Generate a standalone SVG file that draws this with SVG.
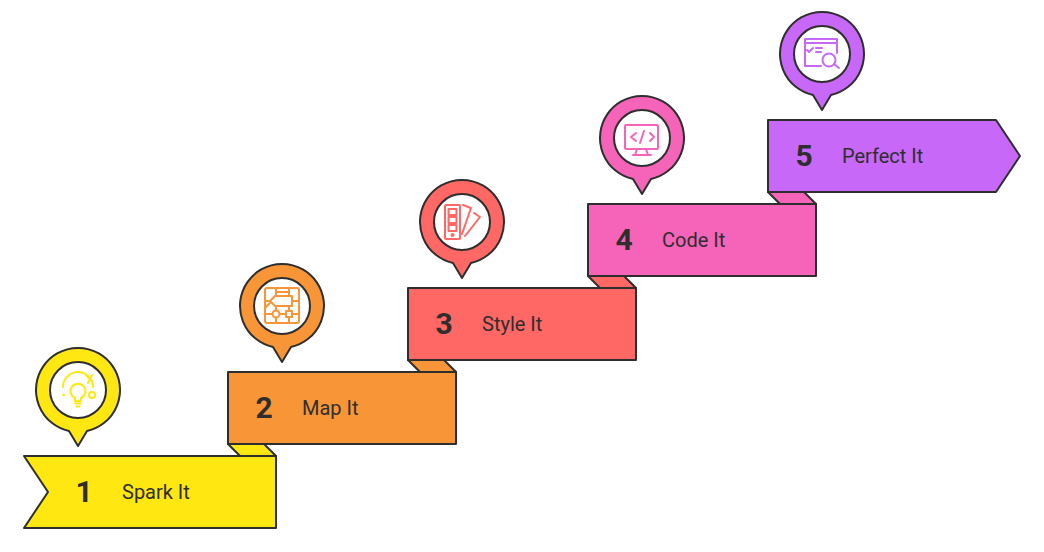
<svg xmlns="http://www.w3.org/2000/svg" width="1044" height="552" viewBox="0 0 1044 552">
<style>
.s{stroke:#2e2e2e;stroke-width:2;stroke-linejoin:round}
.num{font:700 30px Roboto,"Liberation Sans",sans-serif;fill:#2e2e2e;text-anchor:middle}
.lab{font:400 20px Roboto,"Liberation Sans",sans-serif;fill:#2e2e2e}
.ic{fill:none;stroke-width:2;stroke-linecap:round;stroke-linejoin:round}
.c1{fill:#FFE711}.c2{fill:#F89637}.c3{fill:#FF6865}.c4{fill:#F564B9}.c5{fill:#C768F8}
</style>
<defs>
<g id="pin">
<path class="s" d="M-9 41A42 42 0 1 1 9 41L0 56Z" fill="inherit"/>
<circle class="s" r="28" style="fill:#fff"/>
</g>
</defs>
<rect width="1044" height="552" fill="#fff"/>
<g id="connectors">
<path class="s c1" d="M228 444L240 456H276L264 444Z"/>
<path class="s c2" d="M408 360L420 372H456L444 360Z"/>
<path class="s c3" d="M588 276L600 288H636L624 276Z"/>
<path class="s c4" d="M768 192L780 204H816L804 192Z"/>
</g>
<g id="step1">
<path class="s c1" d="M24 456H276V528H24L48 492Z"/>
<text class="num" x="84" y="502">1</text><text class="lab" x="122" y="499">Spark It</text>
<g transform="translate(78 390)" class="c1"><use href="#pin"/>
<g class="ic" stroke="#FFE711">
<path d="M-15-3A15 15 0 0 1 15-3"/><path d="M8-15L14-9M14-15L10-7"/>
<path d="M-3 11V8A7.500 7.500 0 1 1 3 8V11Z"/><path d="M-3 13.500H3M-1.500 16.500H1.500"/>
<circle cx="14" cy="5" r="3"/><path d="M-15 5H-14"/>
</g></g>
</g>
<g id="step2">
<path class="s c2" d="M228 372H456V444H228Z"/>
<text class="num" x="264" y="418">2</text><text class="lab" x="302" y="415">Map It</text>
<g transform="translate(282 306)" class="c2"><use href="#pin"/>
<g class="ic" stroke="#F89637">
<rect x="-17" y="-18" width="34" height="35" rx="2"/>
<path d="M-12-5L-7-10H10V0H-7ZM-6-18V-10M7-18V-10M-6-14H7M-17-5H-12M-17 2L-12-3M10-5H17M-6 0V4.500M7 0V5M-17 8H-9.500M-2.500 8H4M10 8H17M-6 11.500V17M7 11V17"/>
<circle cx="-6" cy="8" r="3.500"/><rect x="4" y="5" width="6" height="6"/>
</g></g>
</g>
<g id="step3">
<path class="s c3" d="M408 288H636V360H408Z"/>
<text class="num" x="444" y="334">3</text><text class="lab" x="482" y="331">Style It</text>
<g transform="translate(462 222)" class="c3"><use href="#pin"/>
<g class="ic" stroke="#FF6865">
<rect x="-17" y="-17" width="15" height="34" rx="1"/>
<rect x="-13.500" y="-13" width="8" height="6"/><rect x="-13.500" y="-5" width="8" height="6"/><rect x="-13.500" y="3" width="8" height="6"/>
<circle cx="-9.500" cy="13" r="1"/>
<path d="M1-17L9-14L0 12M12-9L18-5L3 14"/>
</g></g>
</g>
<g id="step4">
<path class="s c4" d="M588 204H816V276H588Z"/>
<text class="num" x="624" y="250">4</text><text class="lab" x="662" y="247">Code It</text>
<g transform="translate(642 138)" class="c4"><use href="#pin"/>
<g class="ic" stroke="#F564B9">
<rect x="-17" y="-13" width="33" height="24" rx="1"/>
<path d="M-5 11L-7 17M4 11L6 17M-9 17H9"/>
<path d="M-6-5L-11-1L-6 3M8-5L12-1L8 3M2-7L-2 5"/>
</g></g>
</g>
<g id="step5">
<path class="s c5" d="M768 120H996L1020 156L996 192H768Z"/>
<text class="num" x="804" y="166">5</text><text class="lab" x="842" y="163">Perfect It</text>
<g transform="translate(822 54)" class="c5"><use href="#pin"/>
<g class="ic" stroke="#C768F8">
<path d="M-1 12H-17V-15H15V-1M-17-11H15"/>
<path d="M-15-4L-13-2L-9-6M-6-6H0M-6-2H-1"/>
<circle cx="7" cy="6" r="6.500"/><path d="M12 10L17 14"/>
</g></g>
</g>
</svg>
